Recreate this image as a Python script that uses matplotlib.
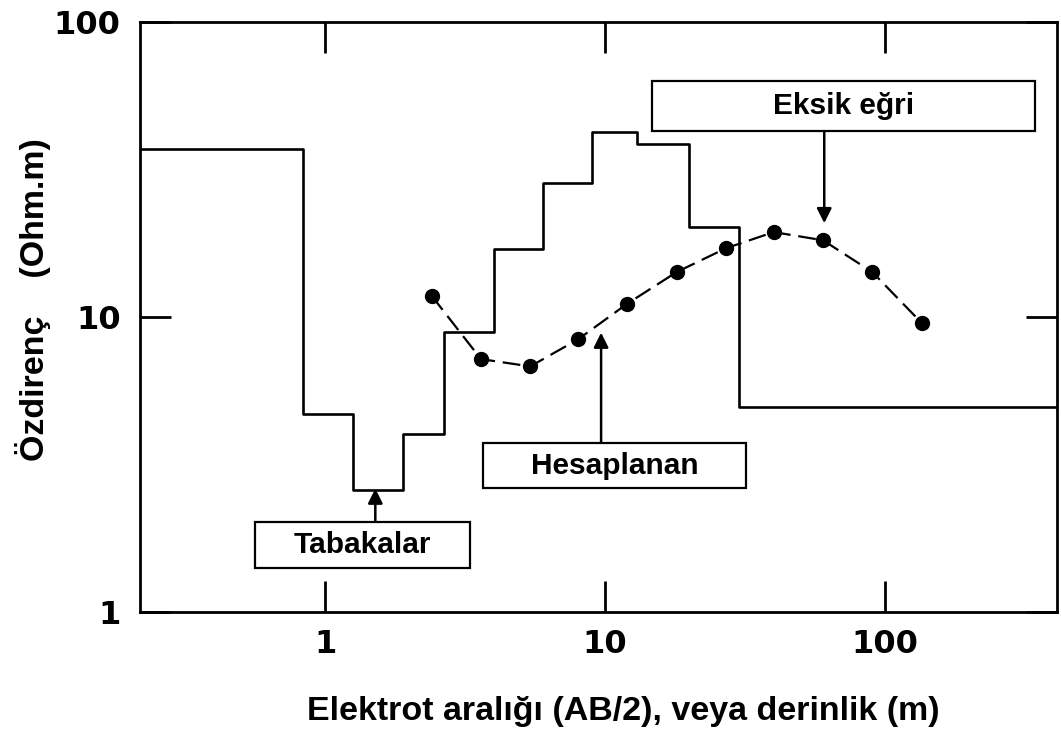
"""Plot the resistivity sounding: layer model and calculated curve"""

import matplotlib
matplotlib.use('Agg')
import matplotlib.pyplot as plt
from matplotlib.patches import Rectangle
from matplotlib.ticker import NullLocator

# layer model: boundaries (m) and layer resistivities (Ohm.m)
layer_bounds = [0.2, 0.83, 1.26, 1.9, 2.65, 4.0, 6.0, 9.0, 13.0, 20.0, 30.0, 500.0]
layer_res = [37.1, 4.7, 2.6, 4.0, 8.9, 17.0, 28.5, 42.4, 38.6, 20.2, 4.96]

# calculated apparent resistivity curve
ab2 = [2.4, 3.6, 5.4, 8.0, 12.0, 18.0, 27.0, 40.0, 60.0, 90.0, 135.0]
rho_a = [11.8, 7.2, 6.8, 8.4, 11.1, 14.2, 17.1, 19.4, 18.2, 14.2, 9.55]

tick_values = [1, 10, 100]
tick_labels = ['1', '10', '100']

box_labels = ['Tabakalar', 'Hesaplanan', 'Eksik eğri']
arrow_tips = [(1.51, 2.62), (9.67, 8.85), (60.6, 20.8)]

TEXT_FONT = ['Liberation Sans', 'DejaVu Sans']


def add_box(ax, label, tip, box, up=True):
    """Draw a labelled box with an arrow pointing to tip (data coords)."""
    x0, y0, x1, y1 = box
    ax.add_patch(Rectangle((x0, y0), x1 - x0, y1 - y0, transform=ax.transAxes,
                           facecolor='white', edgecolor='black', lw=1.6,
                           zorder=4, clip_on=False))
    ax.text((x0 + x1) / 2, (y0 + y1) / 2, label, transform=ax.transAxes,
            ha='center', va='center', fontsize=21.5, fontweight='bold',
            family=TEXT_FONT, zorder=5)
    start = y1 if up else y0
    ax.annotate('', xy=tip, xycoords='data',
                xytext=(tip[0], start), textcoords=('data', 'axes fraction'),
                arrowprops=dict(arrowstyle='-|>', color='black', lw=1.8,
                                mutation_scale=22, shrinkA=0, shrinkB=0),
                zorder=3)


def main():
    """Run the program."""
    fig = plt.figure(figsize=(10.61, 7.38), dpi=100)
    ax = fig.add_axes([140 / 1061, 126 / 738, 917 / 1061, 590 / 738])

    ax.step(layer_bounds, layer_res + [layer_res[-1]], where='post',
            color='black', lw=1.9, zorder=2)
    ax.plot(ab2, rho_a, color='black', lw=1.6, dashes=(8, 3.5),
            marker='o', markersize=10, zorder=3)

    ax.set_xscale('log')
    ax.set_yscale('log')
    ax.set_xlim(0.218, 411)
    ax.set_ylim(1, 100)

    ax.set_xticks(tick_values)
    ax.set_yticks(tick_values)
    ax.set_xticklabels(tick_labels, fontsize=23, fontweight='bold',
                       family='DejaVu Sans')
    ax.set_yticklabels(tick_labels, fontsize=23, fontweight='bold',
                       family='DejaVu Sans')
    ax.xaxis.set_minor_locator(NullLocator())
    ax.yaxis.set_minor_locator(NullLocator())
    ax.tick_params(axis='both', direction='in', length=22, width=2,
                   top=True, right=True)
    ax.tick_params(axis='x', pad=12)
    ax.tick_params(axis='y', pad=14)
    for spine in ax.spines.values():
        spine.set_linewidth(2)

    ax.set_xlabel('Elektrot aralığı (AB/2), veya derinlik (m)', fontsize=24.5,
                  fontweight='bold', family=TEXT_FONT, va='center')
    ax.xaxis.set_label_coords(0.527, -0.169)
    ax.set_ylabel('Özdirenç    (Ohm.m)', fontsize=24.5, fontweight='bold',
                  family=TEXT_FONT, va='center')
    ax.yaxis.set_label_coords(-0.117, 0.529)

    boxes = [(0.125, 0.075, 0.360, 0.153),
             (0.374, 0.210, 0.661, 0.286),
             (0.558, 0.815, 0.976, 0.900)]
    for label, tip, box, up in zip(box_labels, arrow_tips, boxes,
                                   [True, True, False]):
        add_box(ax, label, tip, box, up)

    plt.savefig('out.png', dpi=100)


if __name__ == '__main__':
    main()
